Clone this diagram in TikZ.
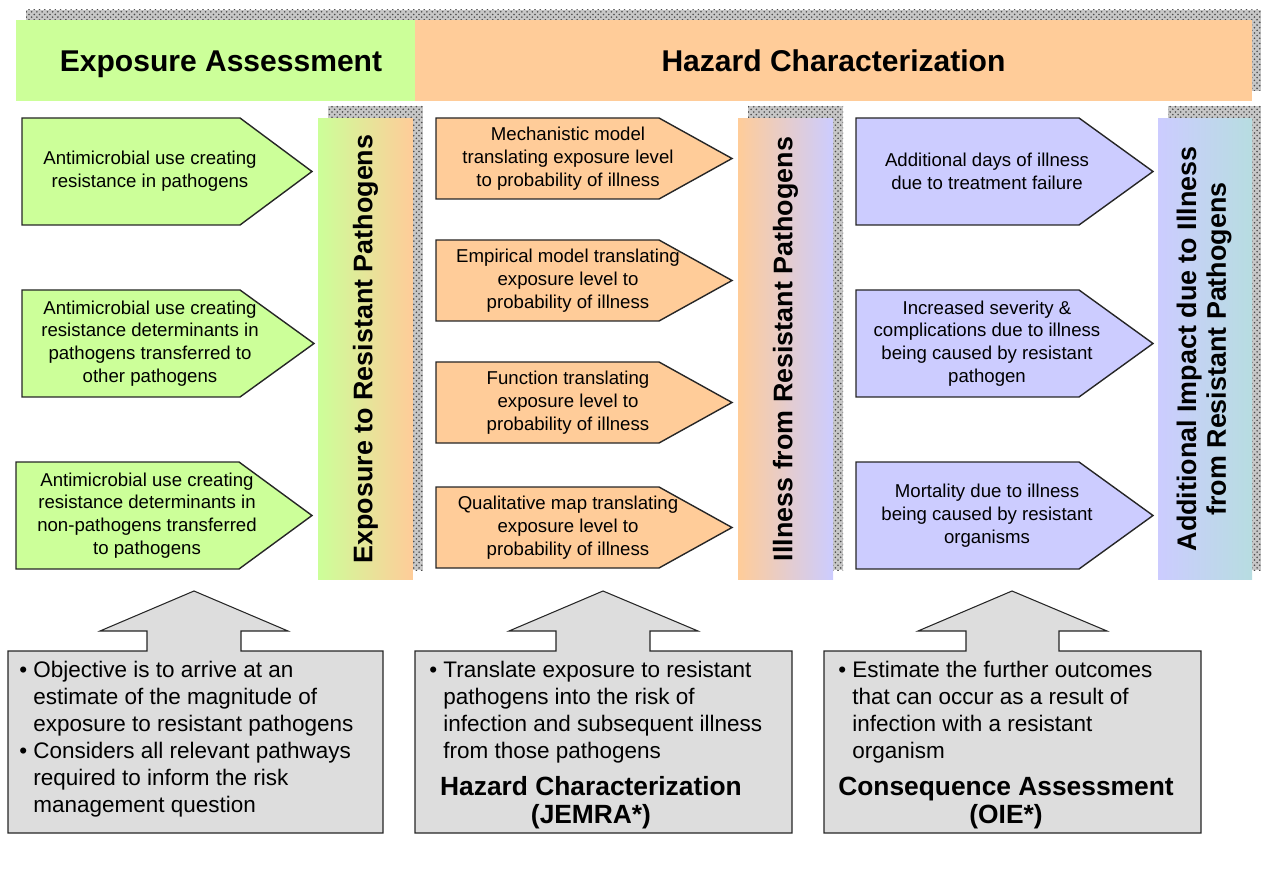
\documentclass[tikz,border=0pt]{standalone}
\usepackage{fontspec}
\setmainfont{Liberation Sans}
\usetikzlibrary{patterns}
\definecolor{grn}{HTML}{CCFF99}
\definecolor{org}{HTML}{FFCC99}
\definecolor{prp}{HTML}{CCCCFF}
\definecolor{tealish}{RGB}{183,221,225}
\definecolor{callgray}{HTML}{DDDDDD}

\begin{document}
\begin{tikzpicture}[x=0.02cm,y=-0.02cm,
        speckle/.style={preaction={fill=black!22},pattern=crosshatch dots,pattern color=black!70},
        head/.style={rectangle,inner sep=0pt,minimum height=1.62cm,text height=12.4pt,text depth=0pt,font=\fontsize{17.1}{20}\selectfont\bfseries},
        bar/.style={rectangle,inner sep=0pt,minimum width=1.9cm,minimum height=9.24cm,font=\fontsize{15.3}{17}\selectfont\bfseries},
        tag/.style={draw=black!85,line width=0.8pt},
        tagtxt/.style={align=center,inner sep=0pt,font=\fontsize{10.6}{13}\selectfont},
        callout/.style={draw=black!85,line width=0.6pt,fill=callgray},
        calltxt/.style={anchor=north west,align=left,inner sep=0pt,font=\fontsize{12.8}{15.3}\selectfont},
        calltitle/.style={align=center,inner sep=0pt,font=\fontsize{15}{16}\selectfont\bfseries}]

    \useasboundingbox (0,0) rectangle (1261,871);

    % speckled shadows
    \fill[speckle] (26,10) rectangle (1262,91);
    \fill[speckle] (328,106) rectangle (423,570);
    \fill[speckle] (748,106) rectangle (843,570);
    \fill[speckle] (1168,106) rectangle (1261,570);

    % headings
    \node[head,fill=grn,minimum width=7.98cm] (expo) at (215.5,60.5) {\hspace{0.22cm}Exposure Assessment};
    \node[head,fill=org,minimum width=16.74cm] (hazard) at (833.5,60.5) {Hazard Characterization};

    % gradient bars
    \node[bar,left color=grn,right color=org] (expbar) at (365.5,349)
        {\rotatebox{90}{Exposure to Resistant Pathogens}};
    \node[bar,left color=org,right color=prp] (illbar) at (785.5,349)
        {\rotatebox{90}{Illness from Resistant Pathogens}};
    \node[bar,left color=prp,right color=tealish,minimum width=1.88cm] (impbar) at (1205,349)
        {\rotatebox{90}{\begin{tabular}{@{}c@{}}Additional Impact due to Illness\\from Resistant Pathogens\end{tabular}}};

    % exposure pathways
    \draw[tag,fill=grn] (22,118) -- (240,118) -- (312,171.5) -- (240,225) -- (22,225) -- cycle;
    \node[tagtxt] (use1) at (150,171.5) {Antimicrobial use creating\\resistance in pathogens};
    \draw[tag,fill=grn] (22,290) -- (240,290) -- (314,343.5) -- (240,397) -- (22,397) -- cycle;
    \node[tagtxt] (use2) at (150,343.5) {Antimicrobial use creating\\resistance determinants in\\pathogens transferred to\\other pathogens};
    \draw[tag,fill=grn] (16,462) -- (239,462) -- (312,515.5) -- (239,569) -- (16,569) -- cycle;
    \node[tagtxt] (use3) at (147,515.5) {Antimicrobial use creating\\resistance determinants in\\non-pathogens transferred\\to pathogens};

    % dose response
    \draw[tag,fill=org] (436,118) -- (659,118) -- (732,158.5) -- (659,199) -- (436,199) -- cycle;
    \node[tagtxt] (mech) at (568,158.5) {Mechanistic model\\translating exposure level\\to probability of illness};
    \draw[tag,fill=org] (436,240) -- (659,240) -- (732,280.5) -- (659,321) -- (436,321) -- cycle;
    \node[tagtxt] (empir) at (568,280.5) {Empirical model translating\\exposure level to\\probability of illness};
    \draw[tag,fill=org] (436,362) -- (659,362) -- (732,402.5) -- (659,443) -- (436,443) -- cycle;
    \node[tagtxt] (func) at (568,402.5) {Function translating\\exposure level to\\probability of illness};
    \draw[tag,fill=org] (436,487) -- (659,487) -- (732,527.5) -- (659,568) -- (436,568) -- cycle;
    \node[tagtxt] (qual) at (568,527.5) {Qualitative map translating\\exposure level to\\probability of illness};

    % consequences
    \draw[tag,fill=prp] (856,118) -- (1079,118) -- (1153,171.5) -- (1079,225) -- (856,225) -- cycle;
    \node[tagtxt] (days) at (987,171.5) {Additional days of illness\\due to treatment failure};
    \draw[tag,fill=prp] (856,290) -- (1079,290) -- (1153,343.5) -- (1079,397) -- (856,397) -- cycle;
    \node[tagtxt] (sever) at (987,343.5) {Increased severity \&\\complications due to illness\\being caused by resistant\\pathogen};
    \draw[tag,fill=prp] (856,462) -- (1079,462) -- (1153,515.5) -- (1079,569) -- (856,569) -- cycle;
    \node[tagtxt] (mort) at (987,515.5) {Mortality due to illness\\being caused by resistant\\organisms};

    % callouts
    \draw[callout] (8,651) -- (147,651) -- (147,631) -- (100,631) -- (194,591) -- (288,631) -- (241,631)
        -- (241,651) -- (383,651) -- (383,833) -- (8,833) -- cycle;
    \node[calltxt] (objtxt) at (19,661) {•\ Objective is to arrive at an\\\phantom{•\ }estimate of the magnitude of\\\phantom{•\ }exposure to resistant pathogens\\•\ Considers all relevant pathways\\\phantom{•\ }required to inform the risk\\\phantom{•\ }management question};

    \draw[callout] (415,651) -- (556,651) -- (556,631) -- (509,631) -- (603,591) -- (698,631) -- (650,631)
        -- (650,651) -- (792,651) -- (792,833) -- (415,833) -- cycle;
    \node[calltxt] (hctxt) at (429,661) {•\ Translate exposure to resistant\\\phantom{•\ }pathogens into the risk of\\\phantom{•\ }infection and subsequent illness\\\phantom{•\ }from those pathogens};
    \node[calltitle] (hctitle) at (591,803) {Hazard Characterization\\(JEMRA*)};

    \draw[callout] (824,651) -- (966,651) -- (966,631) -- (918,631) -- (1012,591) -- (1107,631) -- (1059,631)
        -- (1059,651) -- (1201,651) -- (1201,833) -- (824,833) -- cycle;
    \node[calltxt] (catxt) at (838,661) {•\ Estimate the further outcomes\\\phantom{•\ }that can occur as a result of\\\phantom{•\ }infection with a resistant\\\phantom{•\ }organism};
    \node[calltitle] (catitle) at (1006,803) {Consequence Assessment\\(OIE*)};
\end{tikzpicture}
\end{document}
